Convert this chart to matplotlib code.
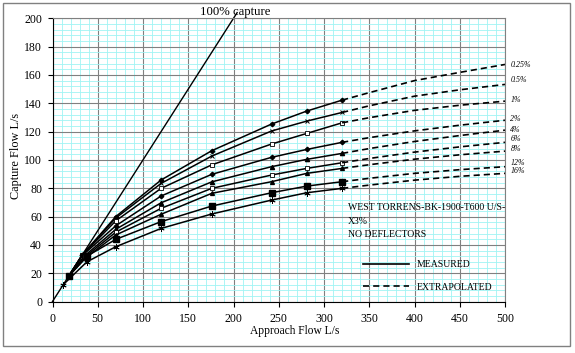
import numpy as np
import matplotlib
matplotlib.use('Agg')
from matplotlib import pyplot as plt
from matplotlib.lines import Line2D
from matplotlib.patches import Rectangle

plt.rcParams['font.family'] = ['Liberation Serif', 'DejaVu Serif']

# grate capture curves, one per road grade
series_names = ['0.25%', '0.5%', '1%', '2%', '4%', '6%', '8%', '12%', '16%']

measured_x = [
    [18, 33, 70, 120, 176, 242, 281, 320],
    [18, 33, 70, 120, 176, 242, 281, 320],
    [18, 33, 70, 120, 176, 242, 281, 320],
    [18, 33, 70, 120, 176, 242, 281, 320],
    [18, 35, 70, 120, 176, 242, 281, 320],
    [18, 36, 70, 120, 176, 242, 281, 320],
    [18, 37, 70, 120, 176, 242, 281, 320],
    [18, 38, 70, 120, 176, 242, 281, 320],
    [12, 38, 70, 120, 176, 242, 281, 320],
]
measured_y = [
    [18, 33.0, 60.0, 85.8, 106.5, 125.3, 134.5, 142.2],
    [18, 33.0, 59.0, 83.4, 102.7, 120.4, 127.4, 133.5],
    [18, 32.8, 57.0, 79.9, 96.5, 111.2, 118.7, 126.2],
    [18, 32.5, 53.5, 74.5, 89.8, 101.8, 107.4, 112.4],
    [18, 32.0, 51.0, 69.7, 84.5, 95.2, 100.4, 104.6],
    [18, 31.5, 49.0, 65.8, 79.9, 89.3, 94.0, 98.0],
    [18, 31.0, 47.0, 61.6, 76.4, 84.6, 90.5, 94.0],
    [18, 32.0, 43.9, 56.4, 67.4, 76.8, 81.5, 84.6],
    [12, 28.0, 38.7, 51.6, 61.8, 71.6, 76.8, 79.9],
]

extrap_x = [320, 350, 400, 450, 500]
extrap_y = [
    [142.2, 147.5, 156.0, 161.8, 167.4],
    [133.5, 138.2, 145.0, 149.5, 153.3],
    [126.2, 129.8, 135.0, 138.6, 141.5],
    [112.4, 115.7, 120.5, 124.5, 128.0],
    [104.6, 108.0, 113.0, 117.2, 121.0],
    [98.0, 101.0, 105.5, 109.2, 112.4],
    [94.0, 96.6, 100.5, 103.6, 106.2],
    [84.6, 87.0, 90.5, 93.1, 95.2],
    [79.9, 82.2, 85.7, 88.4, 90.5],
]

capture_x = [0, 204]
capture_y = [0, 204]

label_y = [167.1, 156.3, 142.2, 128.8, 121.0, 114.5, 107.6, 97.6, 92.1]

markers = [
    dict(marker='D', ms=2.3, mfc='black'),
    dict(marker='x', ms=3.5, mew=0.7),
    dict(marker='s', ms=3, mfc='white', mew=0.6),
    dict(marker='D', ms=2.3, mfc='black'),
    dict(marker='^', ms=3, mfc='black'),
    dict(marker='s', ms=2.6, mfc='white', mew=0.6),
    dict(marker='^', ms=2.8, mfc='black'),
    dict(marker='s', ms=4.5, mfc='black'),
    dict(marker=(6, 2, 0), ms=4.5, mew=0.6),
]

fig = plt.figure(figsize=(5.75, 3.53), dpi=100)
ax = fig.add_axes([52.5 / 575, 1 - 301.5 / 353, 452.5 / 575, 283.2 / 353])

ax.set_xlim(0, 500)
ax.set_ylim(0, 200)
ax.set_xticks(np.arange(0, 501, 50))
ax.set_yticks(np.arange(0, 201, 20))
ax.set_xticks(np.arange(0, 501, 10), minor=True)
ax.set_yticks(np.arange(0, 201, 4), minor=True)
ax.grid(which='minor', color='#a0f4f4', lw=0.6)
ax.grid(which='major', color='#808080', lw=0.8)
ax.set_axisbelow(True)

ax.tick_params(which='major', direction='out', length=3.5, width=0.8, labelsize=8.5)
ax.tick_params(axis='x', pad=4.5)
ax.tick_params(axis='y', pad=4)
ax.tick_params(which='minor', length=0)
for side in ['top', 'right']:
    ax.spines[side].set_color('#808080')
    ax.spines[side].set_linewidth(0.8)
for side in ['left', 'bottom']:
    ax.spines[side].set_linewidth(0.8)

ax.plot(capture_x, capture_y, color='black', lw=1.0, clip_on=False)
ax.text(162.8, 200.5, '100% capture', fontsize=9.2, ha='left', va='bottom')

for i, name in enumerate(series_names):
    ax.plot(measured_x[i], measured_y[i], color='black', lw=1.1, mec='black', **markers[i])
    ax.plot(extrap_x, extrap_y[i], color='black', lw=1.2, ls=(0, (3.7, 2.4)))
    ax.text(506, label_y[i], name, fontsize=5.7, style='italic', ha='left', va='center',
            clip_on=False)

ax.text(326.2, 66.4, 'WEST TORRENS-BK-1900-T600 U/S-', fontsize=7, va='center')
ax.text(326.2, 56.5, 'X3%', fontsize=7, va='center')
ax.text(326.2, 47.3, 'NO DEFLECTORS', fontsize=7, va='center')

handles = [Line2D([], [], color='black', lw=1.2),
           Line2D([], [], color='black', lw=1.2, ls=(0, (3.7, 2.4)))]
ax.legend(handles, ['MEASURED', 'EXTRAPOLATED'], loc='upper left',
          bbox_to_anchor=(0.6855, 0.145), frameon=False, fontsize=7,
          handlelength=4.8, handletextpad=0.8, labelspacing=1.35,
          borderpad=0, borderaxespad=0)

ax.set_xlabel('Approach Flow L/s', fontsize=8.3)
ax.set_ylabel('Capture Flow L/s', fontsize=8.8)
ax.xaxis.set_label_coords(0.536, -0.104)
ax.xaxis.label.set_va('center')
ax.yaxis.set_label_coords(-0.0807, 0.515)
ax.yaxis.label.set_va('center')

fig.patches.append(Rectangle((3 / 575, 7 / 353), 567 / 575, 343 / 353,
                             transform=fig.transFigure, fill=False,
                             ec='#808080', lw=1))

fig.savefig('out.png', dpi=100)
